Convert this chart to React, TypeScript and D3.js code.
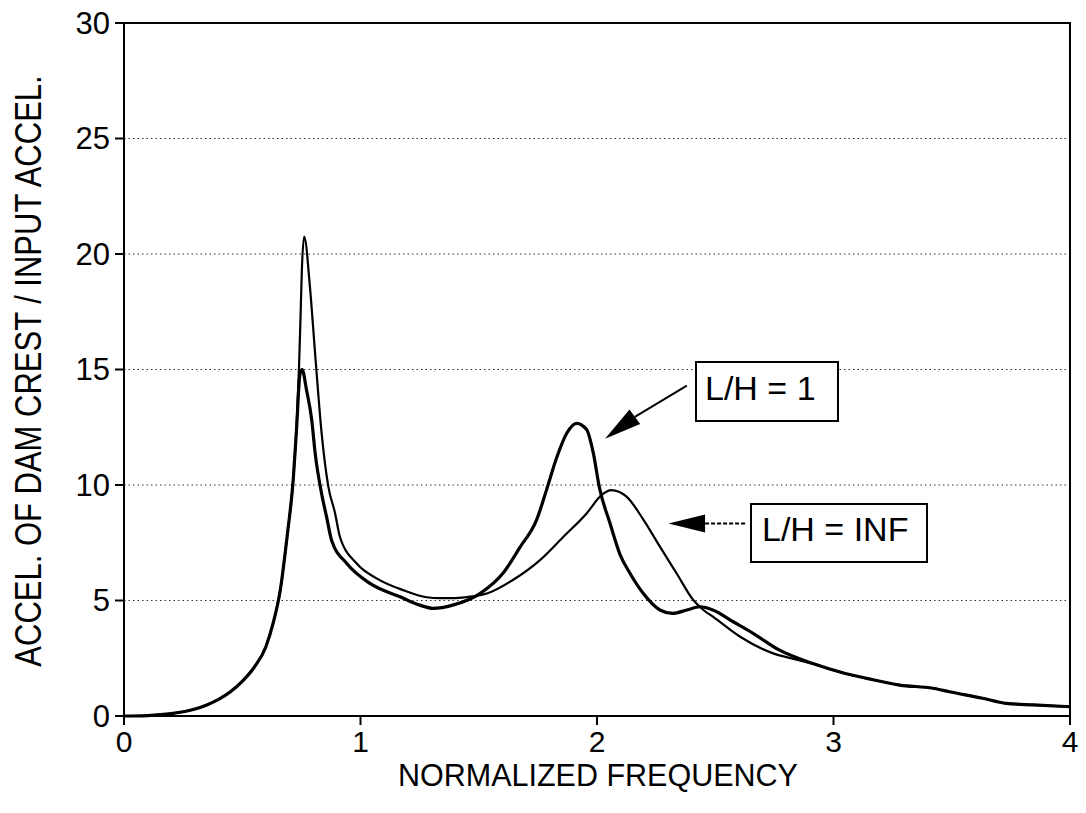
import React from "react";
import * as d3 from "d3";

// L/H = 1 curve (normalized frequency, amplification)
const freqLH1 = [0, 0.1, 0.2, 0.3, 0.35, 0.4, 0.45, 0.5, 0.55, 0.6, 0.63, 0.66, 0.69, 0.716, 0.73, 0.744, 0.753, 0.772, 0.794, 0.808, 0.836, 0.857, 0.878, 0.942, 1.04, 1.167, 1.25, 1.308, 1.39, 1.505, 1.604, 1.674, 1.745, 1.787, 1.83, 1.872, 1.914, 1.956, 1.984, 2.01, 2.055, 2.097, 2.14, 2.196, 2.266, 2.32, 2.38, 2.436, 2.49, 2.576, 2.66, 2.77, 2.91, 3.05, 3.14, 3.28, 3.42, 3.49, 3.63, 3.73, 3.845, 4.0];
const ampLH1 = [0, 0.02, 0.1, 0.3, 0.48, 0.72, 1.05, 1.5, 2.1, 3.0, 4.0, 5.4, 7.8, 10.3, 12.5, 14.8, 15.0, 14.1, 12.8, 11.4, 9.6, 8.6, 7.6, 6.6, 5.74, 5.16, 4.8, 4.66, 4.8, 5.3, 6.2, 7.3, 8.5, 9.8, 11.2, 12.24, 12.67, 12.4, 11.4, 9.9, 8.34, 7.0, 6.17, 5.3, 4.59, 4.44, 4.59, 4.73, 4.59, 4.08, 3.58, 2.86, 2.28, 1.84, 1.63, 1.34, 1.2, 1.05, 0.77, 0.55, 0.48, 0.4];

// L/H = INF curve
const freqINF = [0, 0.1, 0.2, 0.3, 0.35, 0.4, 0.45, 0.5, 0.55, 0.6, 0.63, 0.66, 0.69, 0.716, 0.73, 0.74, 0.746, 0.752, 0.762, 0.786, 0.808, 0.836, 0.864, 0.892, 0.913, 0.984, 1.068, 1.18, 1.28, 1.336, 1.39, 1.45, 1.534, 1.646, 1.759, 1.858, 1.956, 2.02, 2.06, 2.125, 2.196, 2.266, 2.337, 2.407, 2.45, 2.49, 2.605, 2.745, 2.84, 2.91, 3.05, 3.14, 3.28, 3.42, 3.49, 3.63, 3.73, 3.845, 4.0];
const ampINF = [0, 0.02, 0.1, 0.3, 0.48, 0.72, 1.05, 1.5, 2.1, 3.0, 4.0, 5.4, 7.8, 10.3, 12.6, 15.1, 17.1, 19.3, 20.75, 18.6, 15.7, 12.2, 9.93, 8.8, 7.76, 6.6, 5.96, 5.45, 5.14, 5.1, 5.1, 5.15, 5.3, 5.9, 6.75, 7.76, 8.77, 9.57, 9.78, 9.5, 8.5, 7.33, 6.17, 5.02, 4.59, 4.3, 3.43, 2.71, 2.45, 2.26, 1.84, 1.63, 1.34, 1.2, 1.05, 0.77, 0.55, 0.48, 0.4];

const xTicks = [0, 1, 2, 3, 4];
const yTicks = [0, 5, 10, 15, 20, 25, 30];
const gridValues = [5, 10, 15, 20, 25];

const xTitle = "NORMALIZED FREQUENCY";
const yTitle = "ACCEL. OF DAM CREST / INPUT ACCEL.";
const labelLH1 = "L/H = 1";
const labelINF = "L/H = INF";

const FONT = "'Liberation Sans', Arial, Helvetica, sans-serif";

export default function App() {
  const W = 1086, H = 813;
  const x = d3.scaleLinear().domain([0, 4]).range([124, 1070]);
  const y = d3.scaleLinear().domain([0, 30]).range([716, 23]);

  const line = d3
    .line<[number, number]>()
    .x((d) => x(d[0]))
    .y((d) => y(d[1]))
    .curve(d3.curveMonotoneX);

  const dLH1 = line(freqLH1.map((f, i) => [f, ampLH1[i]] as [number, number])) || "";
  const dINF = line(freqINF.map((f, i) => [f, ampINF[i]] as [number, number])) || "";

  // annotation geometry (in data units -> pixels)
  const a1Tip: [number, number] = [x(2.034), y(12.0)];
  const a1Base: [number, number] = [x(2.16), y(12.95)];
  const a1Start: [number, number] = [x(2.38), y(14.3)];
  const ang = Math.atan2(a1Tip[1] - a1Base[1], a1Tip[0] - a1Base[0]);
  const hw = 9;
  const px = -Math.sin(ang) * hw, py = Math.cos(ang) * hw;

  const a2Tip: [number, number] = [x(2.302), y(8.33)];
  const a2Base: [number, number] = [x(2.457), y(8.33)];
  const a2End: [number, number] = [x(2.63), y(8.33)];

  return (
    <svg
      width={W}
      height={H}
      style={{ position: "absolute", left: 0, top: 0, background: "#fff" }}
      fontFamily={FONT}
    >
      <rect x={0} y={0} width={W} height={H} fill="#fff" />
      {/* grid */}
      {gridValues.map((v) => (
        <line
          key={"g" + v}
          x1={x(0)}
          x2={x(4)}
          y1={y(v)}
          y2={y(v)}
          stroke="#333"
          strokeWidth={1.2}
          strokeDasharray="1.5 3"
        />
      ))}
      {/* frame */}
      <rect x={x(0)} y={y(30)} width={x(4) - x(0)} height={y(0) - y(30)} fill="none" stroke="#000" strokeWidth={2} />
      {/* y ticks */}
      {yTicks.map((v) => (
        <g key={"yt" + v}>
          <line x1={x(0) - 9} x2={x(0)} y1={y(v)} y2={y(v)} stroke="#000" strokeWidth={2} />
          <text x={x(0) - 14} y={y(v)} textAnchor="end" dominantBaseline="central" fontSize={31} fill="#000">
            {v}
          </text>
        </g>
      ))}
      {/* x ticks */}
      {xTicks.map((v) => (
        <g key={"xt" + v}>
          <line x1={x(v)} x2={x(v)} y1={y(0)} y2={y(0) + 9} stroke="#000" strokeWidth={2} />
          <text x={x(v)} y={752} textAnchor="middle" fontSize={30} fill="#000">
            {v}
          </text>
        </g>
      ))}
      {/* axis titles */}
      <text x={598} y={786} textAnchor="middle" fontSize={30.5} fill="#000">
        {xTitle}
      </text>
      <text
        transform={`translate(28,371) rotate(-90) scale(1,1.2)`}
        textAnchor="middle"
        dominantBaseline="central"
        fontSize={31}
        fill="#000"
      >
        {yTitle}
      </text>
      {/* curves */}
      <path d={dINF} fill="none" stroke="#000" strokeWidth={2.2} strokeLinejoin="round" />
      <path d={dLH1} fill="none" stroke="#000" strokeWidth={3.2} strokeLinejoin="round" />
      {/* annotation L/H = 1 */}
      <line x1={a1Start[0]} y1={a1Start[1]} x2={a1Base[0]} y2={a1Base[1]} stroke="#000" strokeWidth={2} />
      <polygon
        points={`${a1Tip[0]},${a1Tip[1]} ${a1Base[0] + px},${a1Base[1] + py} ${a1Base[0] - px},${a1Base[1] - py}`}
        fill="#000"
      />
      <rect x={696} y={362} width={142} height={59} fill="#fff" stroke="#000" strokeWidth={2} />
      <text x={705} y={400} fontSize={34} fill="#000">
        {labelLH1}
      </text>
      {/* annotation L/H = INF */}
      <line x1={a2Base[0]} y1={a2Base[1]} x2={a2End[0]} y2={a2End[1]} stroke="#000" strokeWidth={2} strokeDasharray="4 2" />
      <polygon
        points={`${a2Tip[0]},${a2Tip[1]} ${a2Base[0]},${a2Base[1] - 9} ${a2Base[0]},${a2Base[1] + 9}`}
        fill="#000"
      />
      <rect x={751} y={504} width={176} height={58} fill="#fff" stroke="#000" strokeWidth={2} />
      <text x={762} y={541} fontSize={34} fill="#000">
        {labelINF}
      </text>
    </svg>
  );
}
